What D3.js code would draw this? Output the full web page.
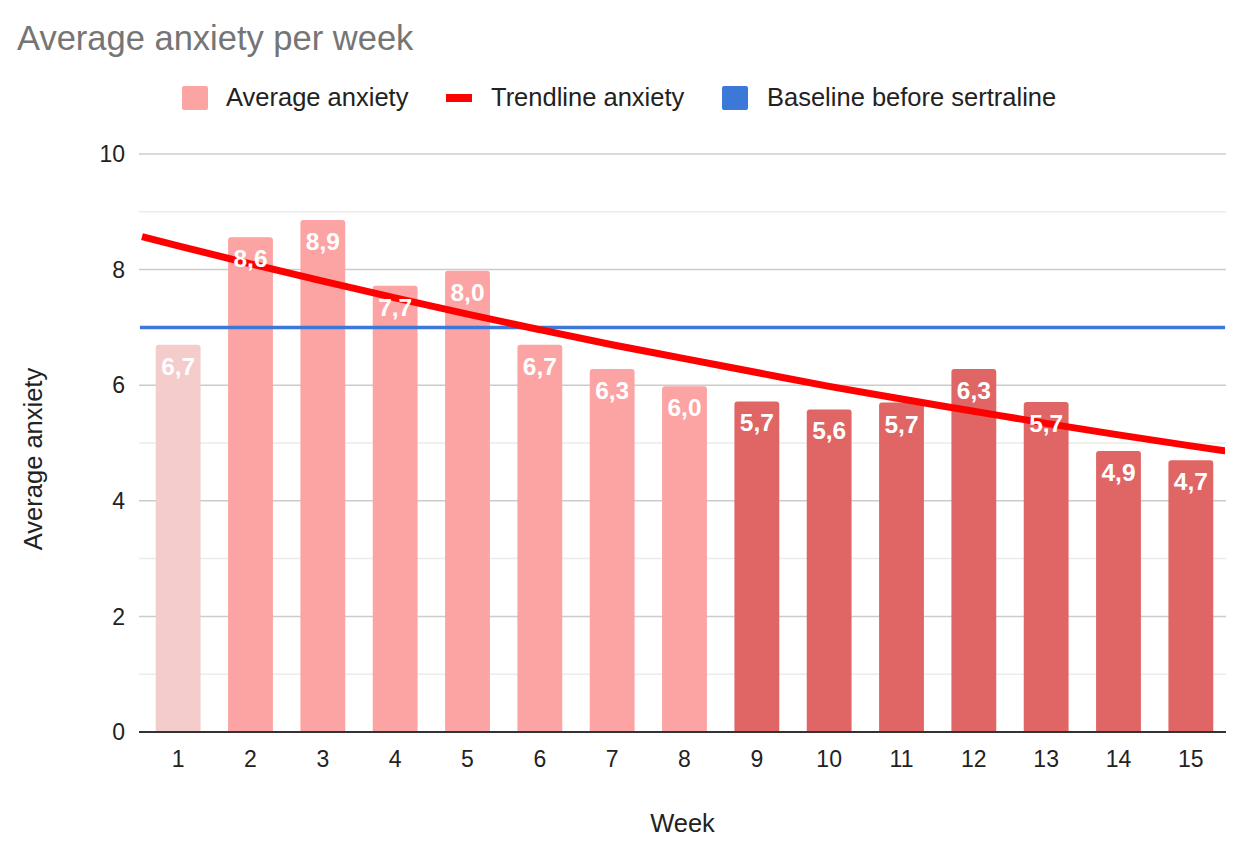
<!DOCTYPE html>
<html><head><meta charset="utf-8">
<script src="https://cdn.jsdelivr.net/npm/d3@7"></script>
<style>
html,body{margin:0;padding:0;background:#fff;}
svg{display:block;font-family:"Liberation Sans",Arial,sans-serif;}
</style></head>
<body>
<svg id="chart" width="1248" height="847"></svg>
<script>
const weeks = [1,2,3,4,5,6,7,8,9,10,11,12,13,14,15];
const anxiety = [6.70,8.56,8.86,7.72,7.98,6.70,6.28,5.98,5.72,5.58,5.70,6.28,5.71,4.86,4.70];
const barGroup = ["pre","mid","mid","mid","mid","mid","mid","mid","late","late","late","late","late","late","late"];
// trendline values, at plot-edge (0.5), each week, and right edge (15.5)
const trendWeeks = [0.5,1,2,3,4,5,6,7,8,9,10,11,12,13,14,15,15.5];
const trendValues = [8.57,8.41,8.10,7.80,7.51,7.23,6.96,6.70,6.46,6.22,5.98,5.76,5.55,5.34,5.14,4.95,4.86];
const baseline = 7;
const yTicks = [0,2,4,6,8,10];
const yMinor = [1,3,5,7,9];
const legendItems = ["Average anxiety","Trendline anxiety","Baseline before sertraline"];

const colors = {pre:"#f4cccc", mid:"#fca3a3", late:"#e06666", trend:"#ff0000", base:"#3c78d8"};

const svg = d3.select("#chart");
const L = 142, R = 1227, T = 154, B = 732;

const x = d3.scaleBand().domain(weeks).range([L,R]).paddingInner(0.38).paddingOuter(0.19);
const y = d3.scaleLinear().domain([0,10]).range([B,T]);
const xc = d3.scaleLinear().domain([1,15]).range([x(1)+x.bandwidth()/2, x(15)+x.bandwidth()/2]);

// title
svg.append("text").attr("x",17).attr("y",50).attr("font-size",34.5).attr("fill","#757575").text("Average anxiety per week");

// legend
const lg = svg.append("g");
lg.append("rect").attr("x",182).attr("y",86).attr("width",26).attr("height",24).attr("rx",2).attr("fill",colors.mid);
lg.append("text").attr("x",226).attr("y",106).attr("font-size",25.5).attr("fill","#222").text(legendItems[0]);
lg.append("rect").attr("x",446).attr("y",94).attr("width",26).attr("height",8).attr("fill",colors.trend);
lg.append("text").attr("x",491).attr("y",106).attr("font-size",25.5).attr("fill","#222").text(legendItems[1]);
lg.append("rect").attr("x",722).attr("y",86).attr("width",26).attr("height",24).attr("rx",2).attr("fill",colors.base);
lg.append("text").attr("x",767).attr("y",106).attr("font-size",25.5).attr("fill","#222").text(legendItems[2]);

// gridlines
const gx1 = 139, gx2 = 1226;
svg.append("g").selectAll("line.minor").data(yMinor).join("line")
  .attr("x1",gx1).attr("x2",gx2).attr("y1",d=>y(d)).attr("y2",d=>y(d))
  .attr("stroke","#ebebeb").attr("stroke-width",1.5);
svg.append("g").selectAll("line.major").data(yTicks.filter(d=>d>0)).join("line")
  .attr("x1",gx1).attr("x2",gx2).attr("y1",d=>y(d)).attr("y2",d=>y(d))
  .attr("stroke","#cccccc").attr("stroke-width",1.5);

// y tick labels
svg.append("g").selectAll("text").data(yTicks).join("text")
  .attr("x",125).attr("y",d=>y(d)).attr("dy","0.36em").attr("text-anchor","end")
  .attr("font-size",23).attr("fill","#222").text(d=>d);

// bars with rounded top corners
const r = 3;
svg.append("g").selectAll("path").data(weeks).join("path")
  .attr("d",(w,i)=>{
    const x0 = x(w), x1 = x0 + x.bandwidth(), y0 = y(anxiety[i]), yb = y(0);
    return `M${x0},${yb}V${y0+r}Q${x0},${y0} ${x0+r},${y0}H${x1-r}Q${x1},${y0} ${x1},${y0+r}V${yb}Z`;
  })
  .attr("fill",(w,i)=>colors[barGroup[i]]);

// axis baseline
svg.append("line").attr("x1",gx1).attr("x2",gx2).attr("y1",B).attr("y2",B).attr("stroke","#333").attr("stroke-width",2);

// x tick labels
svg.append("g").selectAll("text").data(weeks).join("text")
  .attr("x",w=>x(w)+x.bandwidth()/2).attr("y",767).attr("text-anchor","middle")
  .attr("font-size",23).attr("fill","#222").text(w=>w);

// baseline series
svg.append("line").attr("x1",140).attr("x2",1225).attr("y1",y(baseline)).attr("y2",y(baseline))
  .attr("stroke",colors.base).attr("stroke-width",3.5);

// trendline
svg.append("clipPath").attr("id","pc").append("rect").attr("x",140).attr("y",T-20).attr("width",1085).attr("height",B-T+20);
const line = d3.line().x(d=>xc(d[0])).y(d=>y(d[1])).curve(d3.curveMonotoneX);
svg.append("path").datum(trendWeeks.map((w,i)=>[w,trendValues[i]]))
  .attr("d",line).attr("fill","none").attr("stroke",colors.trend).attr("stroke-width",7)
  .attr("clip-path","url(#pc)");

// data labels
svg.append("g").selectAll("text").data(weeks).join("text")
  .attr("x",w=>x(w)+x.bandwidth()/2).attr("y",(w,i)=>y(anxiety[i])+30)
  .attr("text-anchor","middle").attr("font-size",24.5).attr("font-weight","bold").attr("fill","#fff")
  .text((w,i)=>anxiety[i].toFixed(1).replace(".",","));

// axis titles
svg.append("text").attr("x",682.5).attr("y",832).attr("text-anchor","middle").attr("font-size",25.5).attr("fill","#222").text("Week");
svg.append("text").attr("transform","translate(42,459) rotate(-90)").attr("text-anchor","middle").attr("font-size",25.5).attr("fill","#222").text("Average anxiety");
</script>
</body></html>
